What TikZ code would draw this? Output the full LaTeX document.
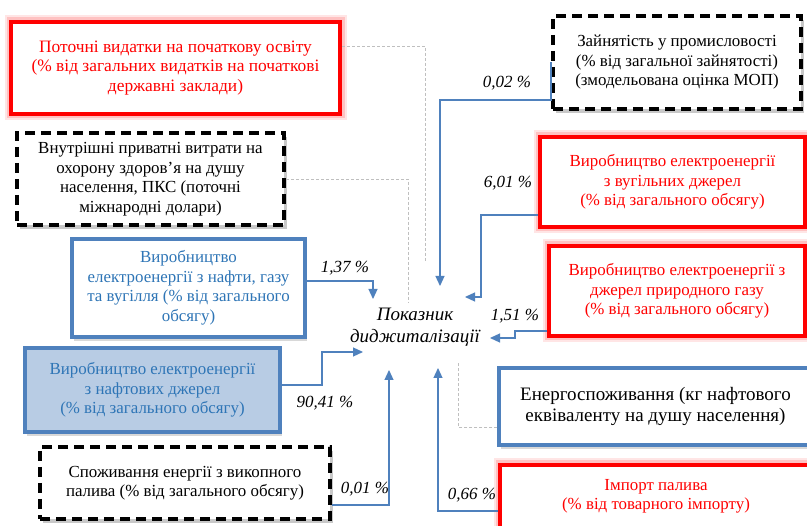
\documentclass[tikz,border=0pt]{standalone}
\usepackage{fontspec}
\setmainfont{Liberation Serif}
\usetikzlibrary{arrows.meta,shadows}
\definecolor{bl}{HTML}{4F81BD}
\definecolor{bltext}{HTML}{2E75B6}
\definecolor{blfill}{HTML}{B8CCE4}
\definecolor{gr}{HTML}{BFBFBF}
\begin{document}
\begin{tikzpicture}[x=1pt,y=-1pt,
  box/.style={rectangle, align=center, inner sep=0pt, fill=white, font=\fontsize{16.9}{19.5}\selectfont},
  redbox/.style={box, draw=red, line width=4pt, text=red,
    preaction={draw=red, opacity=0.10, line width=13pt},
    preaction={draw=red, opacity=0.15, line width=9pt}},
  dbox/.style={box, draw=black, line width=4pt, dash pattern=on 10pt off 6pt,
    drop shadow={shadow xshift=3pt, shadow yshift=-4pt, opacity=0.3, fill=black!70}},
  bbox/.style={box, draw=bl, line width=3.5pt, text=bltext,
    drop shadow={shadow xshift=2pt, shadow yshift=-4pt, opacity=0.25, fill=black!60}},
  conn/.style={draw=bl, line width=1.2pt, -{Triangle[width=9pt,length=10pt]}},
  gline/.style={draw=gr, line width=0.9pt, dash pattern=on 3pt off 2pt},
  pct/.style={font=\itshape\fontsize{17}{19}\selectfont, inner sep=0pt}
]
\fill[white] (0,0) rectangle (807,526);
\clip (0,0) rectangle (807,526);

% named arrow tips and free ends
\coordinate (t1) at (440,286);
\coordinate (t2) at (465,297);
\coordinate (t3) at (490,338);
\coordinate (t4) at (438,368);
\coordinate (t5) at (389,370);
\coordinate (t6) at (363,352);
\coordinate (t7) at (373,299);
\coordinate (g1) at (425,262);
\coordinate (g2) at (408,303);
\coordinate (g3) at (458,363);

% boxes
\node[redbox, minimum width=329pt, minimum height=92pt, font=\fontsize{17.4}{19.5}\selectfont] (osv) at (175.5,68)
  {Поточні видатки на початкову освіту\\(\% від загальних видатків на початкові\\державні заклади)};
\node[dbox, minimum width=267pt, minimum height=92pt] (zdr) at (150.5,179)
  {Внутрішні приватні витрати на\\охорону здоров'я на душу\\населення, ПКС (поточні\\міжнародні долари)};
\node[bbox, minimum width=233pt, minimum height=98pt] (ngv) at (188.5,288)
  {Виробництво\\електроенергії з нафти, газу\\та вугілля (\% від загального\\обсягу)};
\node[bbox, fill=blfill, minimum width=255pt, minimum height=84pt] (nft) at (152.5,390)
  {Виробництво електроенергії\\з нафтових джерел\\(\% від загального обсягу)};
\node[dbox, minimum width=290pt, minimum height=72pt] (spz) at (185,483)
  {Споживання енергії з викопного\\палива (\% від загального обсягу)};
\node[dbox, minimum width=248pt, minimum height=93pt] (zan) at (677,62.5)
  {Зайнятість у промисловості\\(\% від загальної зайнятості)\\(змодельована оцінка МОП)};
\node[redbox, minimum width=265pt, minimum height=90pt] (vug) at (672.5,182)
  {Виробництво електроенергії\\з вугільних джерел\\(\% від загального обсягу)};
\node[redbox, minimum width=256pt, minimum height=90pt] (gaz) at (677,291)
  {Виробництво електроенергії з\\джерел природного газу\\(\% від загального обсягу)};
\node[bbox, text=black, minimum width=321pt, minimum height=77pt, font=\fontsize{19}{20.5}\selectfont] (enr) at (659.5,406.5)
  {Енергоспоживання (кг нафтового\hspace*{8pt}\\еквіваленту на душу населення)\hspace*{8pt}};
\node[redbox, minimum width=312pt, minimum height=63pt] (imp) at (656,496.5)
  {Імпорт палива\\(\% від товарного імпорту)};
\node[font=\itshape\fontsize{19}{22}\selectfont, align=center, inner sep=0pt] (pok) at (415,327)
  {Показник\\диджиталізації};

% grey dashed links
\draw[gline] ([yshift=22pt]osv.east) -| (g1);
\draw[gline] (zdr.east) -| (g2);
\draw[gline] ([yshift=-20.5pt]enr.west) -| (g3);

% blue connectors
\draw[conn] (zan.west) |- (440,100) -- (t1);
\draw[conn] ([yshift=14pt]vug.south west) -| (481,297) -- (t2);
\draw[conn] ([yshift=7pt]gaz.south west) -| (515,338) -- (t3);
\draw[conn] ([yshift=-14.5pt]imp.west) -| (t4);
\draw[conn] ([yshift=-22pt]spz.east) -| (t5);
\draw[conn] ([yshift=5pt]nft.east) -| (322,352) -- (t6);
\draw[conn] ([yshift=7pt]ngv.east) -| (t7);

% percentages
\node[pct] (p1) at (507,83) {0,02 \%};
\node[pct] (p2) at (508,183) {6,01 \%};
\node[pct] (p3) at (515,316) {1,51 \%};
\node[pct] (p4) at (472,495) {0,66 \%};
\node[pct] (p5) at (365,489) {0,01 \%};
\node[pct] (p6) at (325,403) {90,41 \%};
\node[pct] (p7) at (345,268) {1,37 \%};
\end{tikzpicture}
\end{document}
